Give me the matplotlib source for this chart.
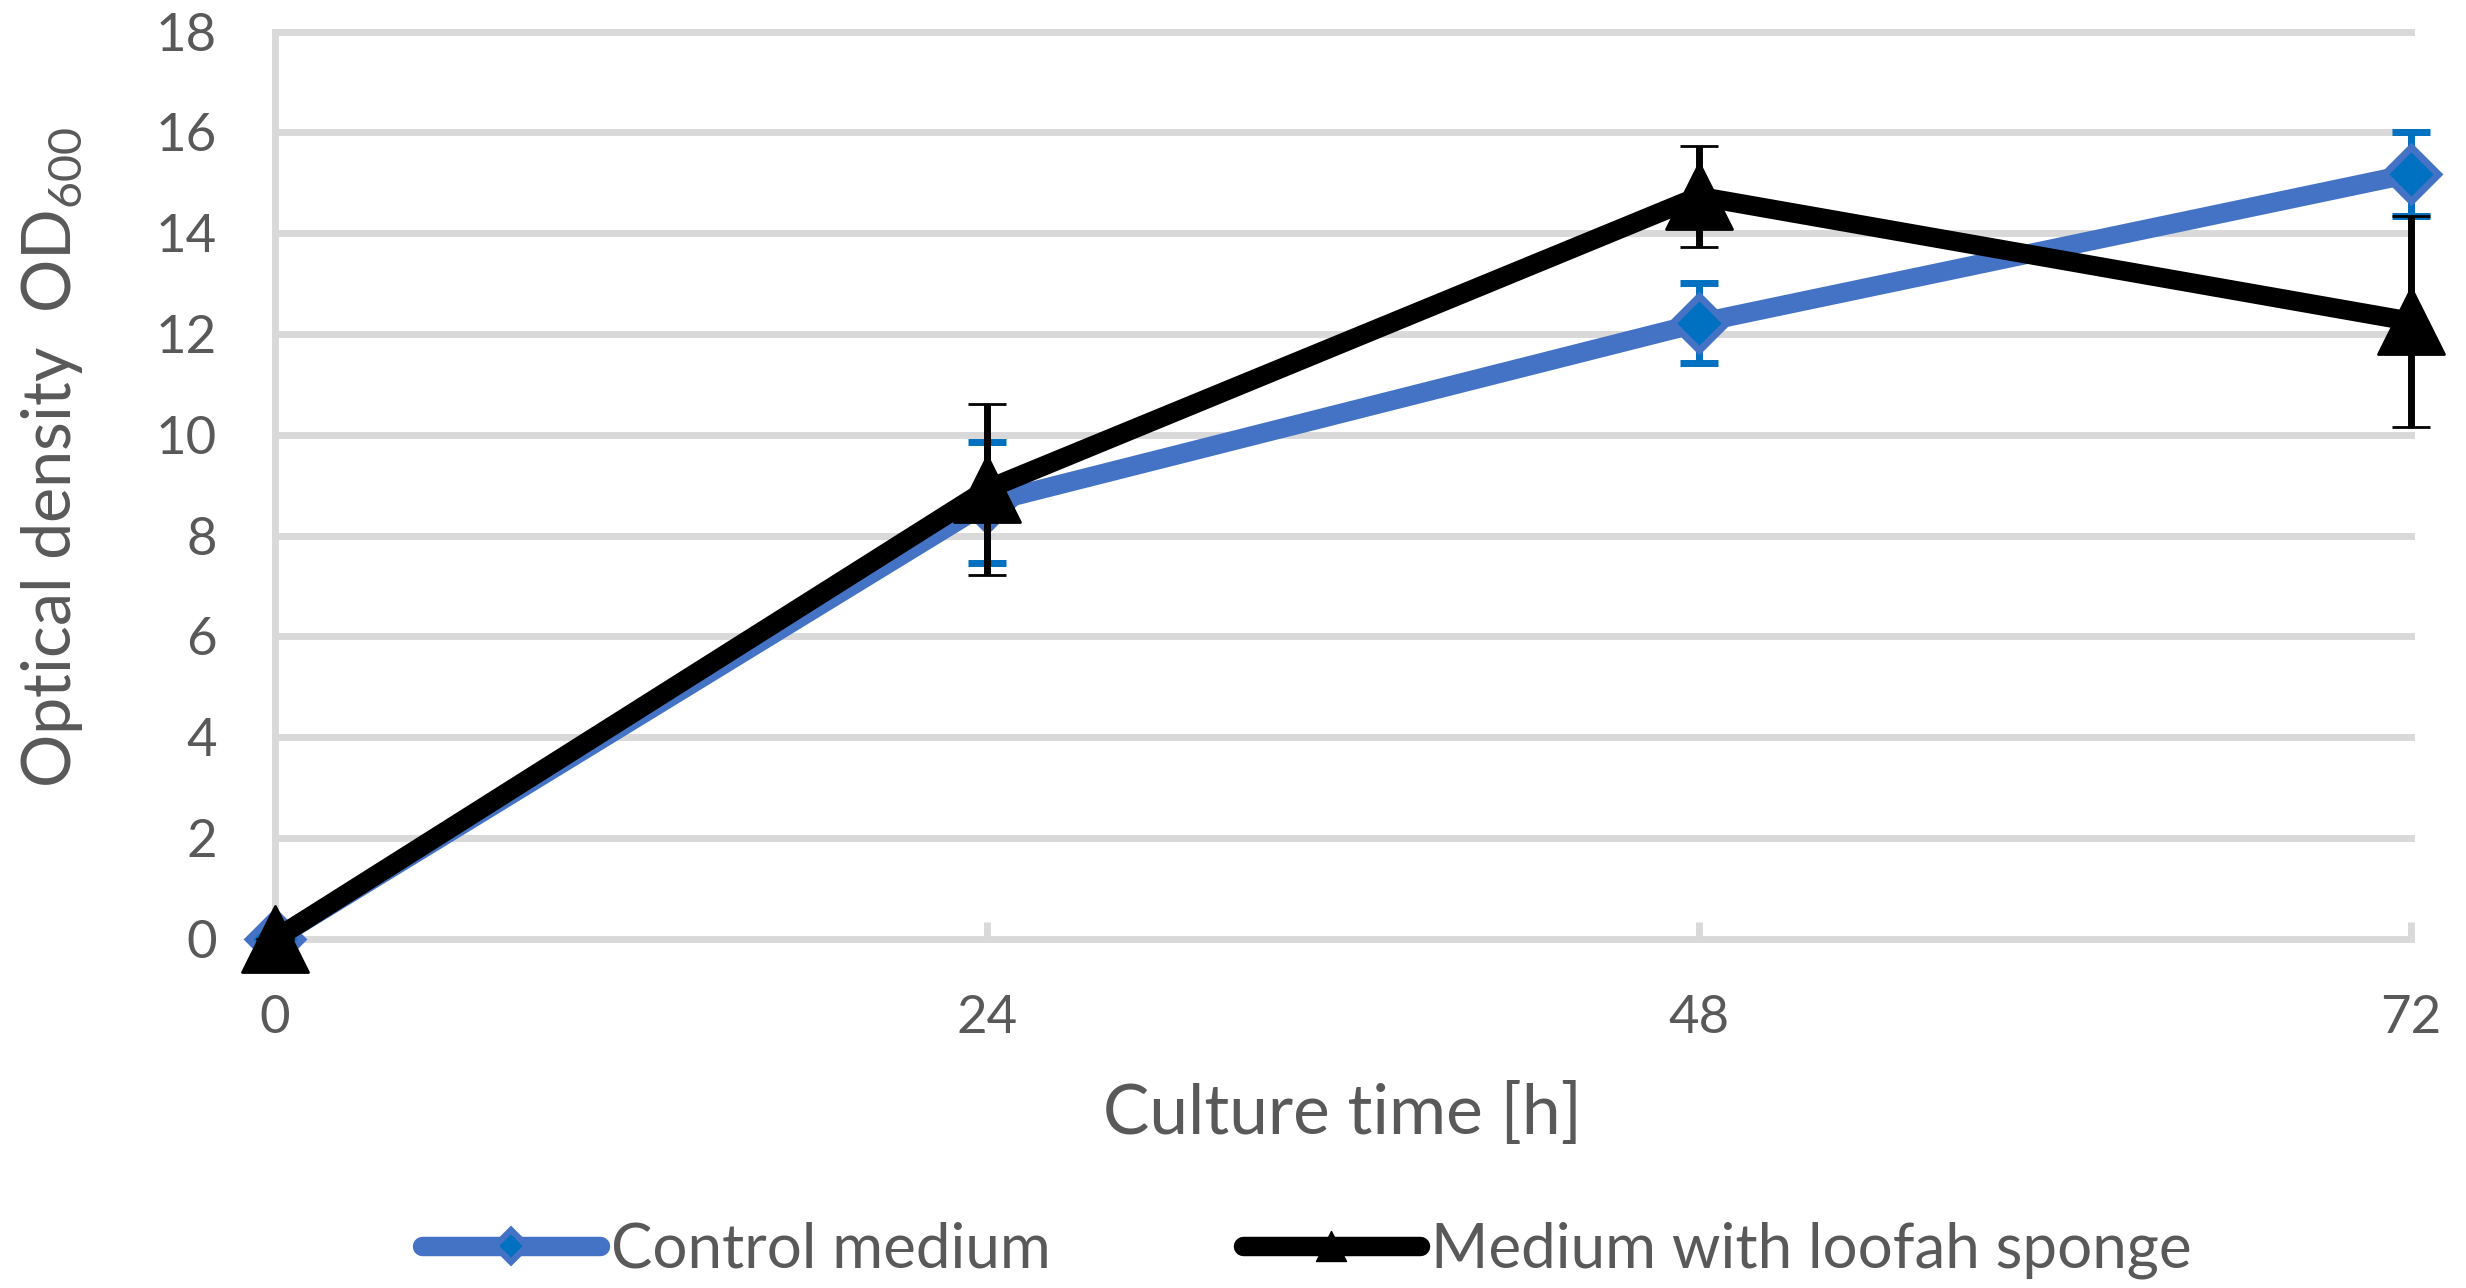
import numpy as np
import matplotlib
matplotlib.use("Agg")
import matplotlib.pyplot as plt
from matplotlib.lines import Line2D
from matplotlib.markers import MarkerStyle

# data
hours = [0, 24, 48, 72]
control_mean = [0.0, 8.65, 12.22, 15.18]
control_err = [0.0, 1.2, 0.8, 0.83]
loofah_mean = [0.0, 8.92, 14.73, 12.25]
loofah_err = [0.0, 1.7, 1.0, 2.1]
series_names = ["Control medium", "Medium with loofah sponge"]

plt.rcParams['font.family'] = ['Lato', 'DejaVu Sans']
plt.rcParams['mathtext.fontset'] = 'custom'
plt.rcParams['mathtext.rm'] = 'Lato'

txt = '#595959'
grid = '#D9D9D9'
blue_line = '#4472C4'
blue_dark = '#0070C0'

fig = plt.figure(figsize=(24.66, 12.88), dpi=100)
ax = fig.add_axes([0.1115, 0.271, 0.8662, 0.7045])

diamond = MarkerStyle('D', joinstyle='miter')
tri = MarkerStyle('^', joinstyle='round')

ax.errorbar(hours, control_mean, yerr=control_err, color=blue_line, lw=14,
            marker=diamond, ms=28, mfc=blue_dark, mec=blue_line, mew=5,
            ecolor=blue_dark, elinewidth=5, capsize=13.7, capthick=5,
            solid_capstyle='round', solid_joinstyle='round',
            zorder=3, clip_on=False)
ax.errorbar(hours, loofah_mean, yerr=loofah_err, color='black', lw=14,
            marker=tri, ms=48, mfc='black', mec='black', mew=2,
            ecolor='black', elinewidth=5, capsize=13.7, capthick=5,
            solid_capstyle='round', solid_joinstyle='round',
            zorder=4, clip_on=False)

ax.set_xlim(0, 72)
ax.set_ylim(0, 18)
ax.set_xticks(hours)
ax.set_yticks(np.arange(0, 19, 2))

for s in ['top', 'right', 'bottom']:
    ax.spines[s].set_visible(False)
ax.spines['left'].set_color(grid)
ax.spines['left'].set_linewidth(5)
ax.spines['left'].set_zorder(1)

ax.yaxis.grid(True, color=grid, lw=5, zorder=0)
ax.set_axisbelow(True)
for gl in ax.get_ygridlines():
    gl.set_clip_on(False)

ax.tick_params(axis='y', length=0, pad=42, labelsize=38, labelcolor=txt)
ax.tick_params(axis='x', direction='in', length=12, width=5, color=grid,
               pad=40, labelsize=38, labelcolor=txt)

ax.set_xlabel('Culture time [h]', fontsize=50, color=txt, labelpad=29)
ax.set_ylabel(r'Optical density  OD$_\mathregular{600}$', fontsize=48, color=txt)
ax.yaxis.set_label_coords(-0.089, 0.531)

handles = [
    Line2D([], [], color=blue_line, lw=14, marker=diamond, ms=16,
           mfc=blue_dark, mec=blue_line, mew=4.5, solid_capstyle='round'),
    Line2D([], [], color='black', lw=14, marker=tri, ms=22,
           mfc='black', mec='black', solid_capstyle='round'),
]
fig.legend(handles, series_names, loc='center', bbox_to_anchor=(0.530, 0.029),
           ncol=2, frameon=False, fontsize=44.6, labelcolor=txt,
           handlelength=2.87, handletextpad=0.17, columnspacing=3.1)

fig.savefig('out.png', dpi=100)
